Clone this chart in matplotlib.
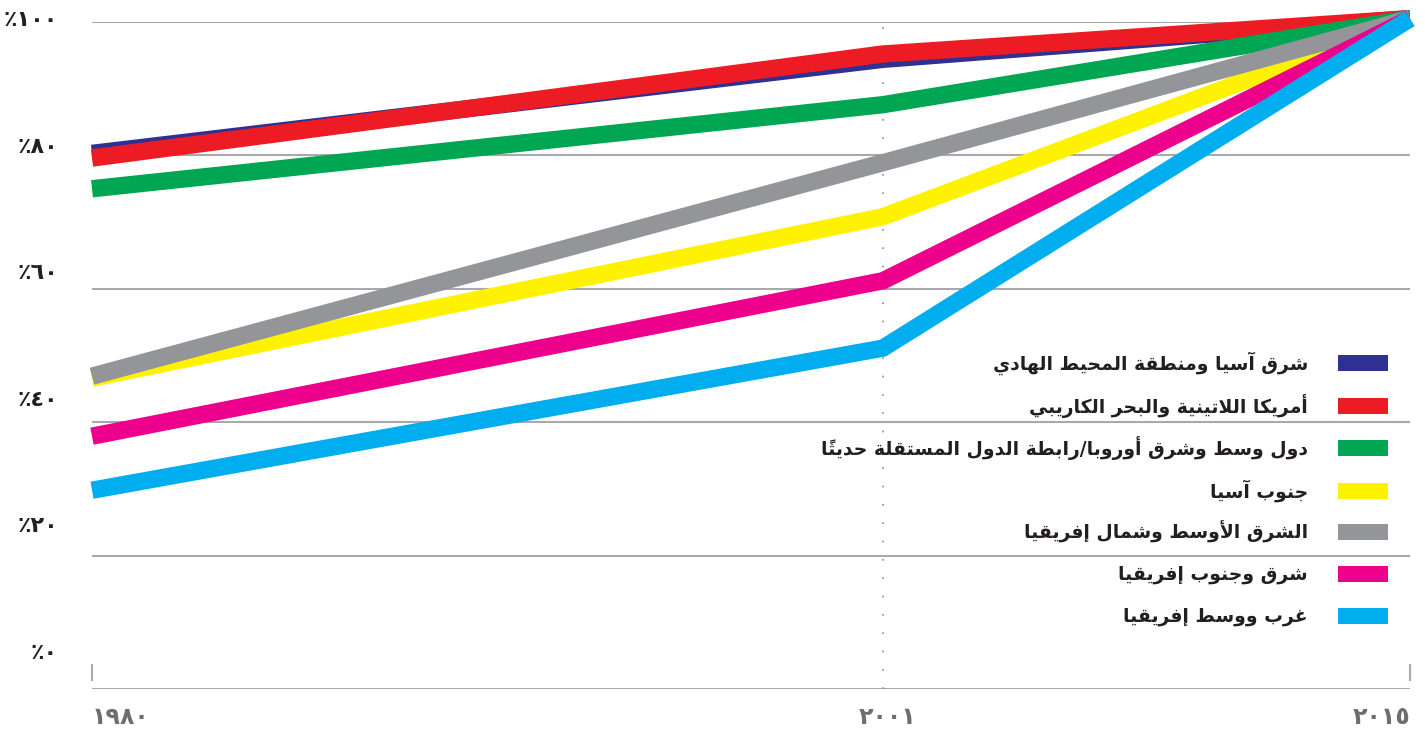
import matplotlib

matplotlib.use("Agg")

import matplotlib.pyplot as plt
from matplotlib.patches import Rectangle


# data
years = [1980, 2001, 2015]
east_asia_pacific = [80.3, 94.4, 100.5]
latin_america = [79.6, 95.2, 100.5]
europe_cis = [75.0, 87.6, 100.5]
south_asia = [46.6, 70.8, 100.5]
mena = [46.9, 78.9, 100.5]
east_south_africa = [37.9, 61.2, 100.5]
west_central_africa = [29.8, 51.1, 100.5]

series_labels = [
    "شرق آسيا ومنطقة المحيط الهادي",
    "أمريكا اللاتينية والبحر الكاريبي",
    "دول وسط وشرق أوروبا/رابطة الدول المستقلة حديثا\u064b",
    "جنوب آسيا",
    "الشرق الأوسط وشمال إفريقيا",
    "شرق وجنوب إفريقيا",
    "غرب ووسط إفريقيا",
]
series_values = [
    east_asia_pacific,
    latin_america,
    europe_cis,
    south_asia,
    mena,
    east_south_africa,
    west_central_africa,
]
series_colors = ["#2e3192", "#ed1c24", "#00a651", "#fff200", "#939598", "#ec008c", "#00aeef"]

y_tick_labels = ["٪٠", "٪٢٠", "٪٤٠", "٪٦٠", "٪٨٠", "٪١٠٠"]
y_ticks = [0, 20, 40, 60, 80, 100]
x_tick_labels = ["١٩٨٠", "٢٠٠١", "٢٠١٥"]


# --- minimal Arabic shaping (matplotlib does no contextual shaping) ---
FORMS = {
    "ا": "\uFE8D\uFE8E", "آ": "\uFE81\uFE82", "أ": "\uFE83\uFE84", "إ": "\uFE87\uFE88",
    "ة": "\uFE93\uFE94", "د": "\uFEA9\uFEAA", "ذ": "\uFEAB\uFEAC", "ر": "\uFEAD\uFEAE",
    "ز": "\uFEAF\uFEB0", "و": "\uFEED\uFEEE", "ى": "\uFEEF\uFEF0",
    "ب": "\uFE8F\uFE90\uFE91\uFE92", "ت": "\uFE95\uFE96\uFE97\uFE98",
    "ث": "\uFE99\uFE9A\uFE9B\uFE9C", "ج": "\uFE9D\uFE9E\uFE9F\uFEA0",
    "ح": "\uFEA1\uFEA2\uFEA3\uFEA4", "خ": "\uFEA5\uFEA6\uFEA7\uFEA8",
    "س": "\uFEB1\uFEB2\uFEB3\uFEB4", "ش": "\uFEB5\uFEB6\uFEB7\uFEB8",
    "ص": "\uFEB9\uFEBA\uFEBB\uFEBC", "ض": "\uFEBD\uFEBE\uFEBF\uFEC0",
    "ط": "\uFEC1\uFEC2\uFEC3\uFEC4", "ظ": "\uFEC5\uFEC6\uFEC7\uFEC8",
    "ع": "\uFEC9\uFECA\uFECB\uFECC", "غ": "\uFECD\uFECE\uFECF\uFED0",
    "ف": "\uFED1\uFED2\uFED3\uFED4", "ق": "\uFED5\uFED6\uFED7\uFED8",
    "ك": "\uFED9\uFEDA\uFEDB\uFEDC", "ل": "\uFEDD\uFEDE\uFEDF\uFEE0",
    "م": "\uFEE1\uFEE2\uFEE3\uFEE4", "ن": "\uFEE5\uFEE6\uFEE7\uFEE8",
    "ه": "\uFEE9\uFEEA\uFEEB\uFEEC", "ي": "\uFEF1\uFEF2\uFEF3\uFEF4",
}
LAM_ALEF = {"آ": "\uFEF5\uFEF6", "أ": "\uFEF7\uFEF8", "إ": "\uFEF9\uFEFA", "ا": "\uFEFB\uFEFC"}


def is_mark(c):
    return "\u064B" <= c <= "\u0652"


def shape_ar(text):
    # tokens: [forms or None, raw char, marks]
    toks = []
    i = 0
    while i < len(text):
        c = text[i]
        if is_mark(c) and toks:
            toks[-1][2] += c
        elif c == "ل" and i + 1 < len(text) and text[i + 1] in LAM_ALEF:
            toks.append([LAM_ALEF[text[i + 1]], c, ""])
            i += 1
        else:
            toks.append([FORMS.get(c), c, ""])
        i += 1
    out = []
    for k, (forms, raw, marks) in enumerate(toks):
        if forms is None:
            out.append(raw + marks)
            continue
        prev = toks[k - 1][0] if k > 0 else None
        nxt = toks[k + 1][0] if k + 1 < len(toks) else None
        jp = prev is not None and len(prev) == 4
        jn = len(forms) == 4 and nxt is not None
        if jp and jn:
            g = forms[3]
        elif jp:
            g = forms[1]
        elif jn:
            g = forms[2]
        else:
            g = forms[0]
        out.append(g + marks)
    return "".join(reversed(out))


W, H = 1425, 730
fig = plt.figure(figsize=(W / 100, H / 100), dpi=100)
ax_left, ax_right = 92 / W, 1410 / W
ax_bottom, ax_top = (H - 689) / H, (H - 22) / H
ax = fig.add_axes([ax_left, ax_bottom, ax_right - ax_left, ax_top - ax_bottom])
ax.set_xlim(years[0], years[-1])
ax.set_ylim(0, 100)
ax.axis("off")

grid_color = "#a7a9ac"
for v in y_ticks:
    ax.axhline(v, color=grid_color, lw=1.5, zorder=1)
ax.axvline(years[1], color="#8a8c8e", lw=1.2, ls=(0, (1, 10)), zorder=1)
for x in (years[0], years[-1]):
    ax.plot([x, x], [0.0135, 0.036], transform=ax.get_xaxis_transform(),
            color=grid_color, lw=1.5, clip_on=False)

for idx, (vals, col) in enumerate(zip(series_values, series_colors)):
    ax.plot(years, vals, color=col, lw=12.5, solid_capstyle="butt",
            solid_joinstyle="round", clip_on=False, zorder=3 + idx)

# y labels (placed slightly above gridlines, as in the original)
lab_top, lab_bot = 20, 653
for k, lab in enumerate(y_tick_labels):
    py = lab_bot - k * (lab_bot - lab_top) / (len(y_tick_labels) - 1)
    fig.text(58 / W, 1 - py / H, lab, ha="right", va="center", fontsize=16,
             fontweight="bold", color="#231f20")

# x labels
xl_y = 1 - 717 / H
fig.text(92 / W, xl_y, x_tick_labels[0], ha="left", va="center", fontsize=17,
         fontweight="bold", color="#6d6e71")
fig.text(888 / W, xl_y, x_tick_labels[1], ha="center", va="center", fontsize=17,
         fontweight="bold", color="#6d6e71")
fig.text(1410 / W, xl_y, x_tick_labels[2], ha="right", va="center", fontsize=17,
         fontweight="bold", color="#6d6e71")

# legend
row_y = [363, 406, 448, 491, 532, 574, 616]
for k, (lab, col) in enumerate(zip(series_labels, series_colors)):
    py = row_y[k]
    fig.patches.append(Rectangle((1338 / W, 1 - (py + 8) / H), 50 / W, 16 / H,
                                 transform=fig.transFigure, facecolor=col,
                                 edgecolor="none", zorder=10))
    fig.text(1308 / W, 1 - py / H, shape_ar(lab), ha="right", va="center",
             fontsize=13.5, fontweight="bold", color="#231f20")

fig.savefig("out.png", dpi=100, facecolor="white")
